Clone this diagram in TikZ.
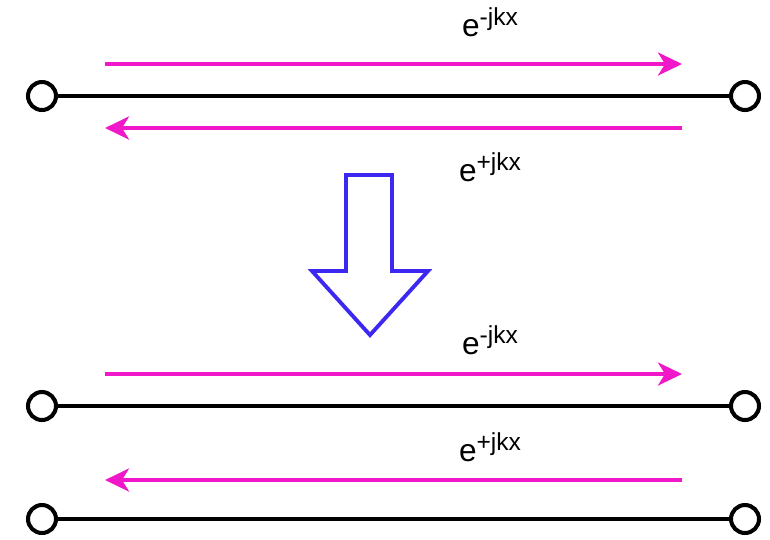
\documentclass[tikz,border=0pt]{standalone}
\usepackage{fontspec}
\setmainfont{Liberation Sans}
\usetikzlibrary{arrows.meta}
\definecolor{wavepink}{RGB}{240,24,200}
\definecolor{bigblue}{RGB}{60,40,240}
\newcommand{\wavesup}[1]{e\raisebox{6pt}{\fontsize{14}{16}\selectfont #1}}

\begin{document}
\begin{tikzpicture}[x=0.02cm, y=-0.02cm, line join=miter, >={Stealth[length=0.48cm, width=0.46cm, inset=0.14cm]}]
	\tikzset{port/.style={circle, draw, line width=2.3pt, minimum size=0.56cm, inner sep=0pt, fill=white},
		wire/.style={line width=2.2pt},
		wave/.style={wavepink, line width=2.2pt, ->},
		label style/.style={font=\fontsize{18}{20}\selectfont, inner sep=0pt}}
	\useasboundingbox (0,0) rectangle (770,539);
	% lines with ports
	\foreach \y/\n in {96/1, 406/2, 519/3} {
		\node[port] (l\n) at (42,\y) {};
		\node[port] (r\n) at (745,\y) {};
		\draw[wire] (l\n) -- (r\n);
	}
	% waves
	\coordinate (w1s) at (105,64);  \coordinate (w1e) at (682,64);
	\coordinate (w2s) at (682,128); \coordinate (w2e) at (105,128);
	\coordinate (w3s) at (105,374); \coordinate (w3e) at (682,374);
	\coordinate (w4s) at (682,480); \coordinate (w4e) at (105,480);
	\foreach \n in {1,...,4} \draw[wave] (w\n s) -- (w\n e);
	\node[label style] (k1) at (490,22) {\wavesup{-jkx}};
	\node[label style] (k2) at (490,167) {\wavesup{+jkx}};
	\node[label style] (k3) at (490,340) {\wavesup{-jkx}};
	\node[label style] (k4) at (490,447) {\wavesup{+jkx}};
	% big arrow
	\draw[bigblue, line width=2.2pt] (346,175) -- (392,175) -- (392,271) -- (428,271) -- (370,335) -- (312,271) -- (346,271) -- cycle;
\end{tikzpicture}
\end{document}
